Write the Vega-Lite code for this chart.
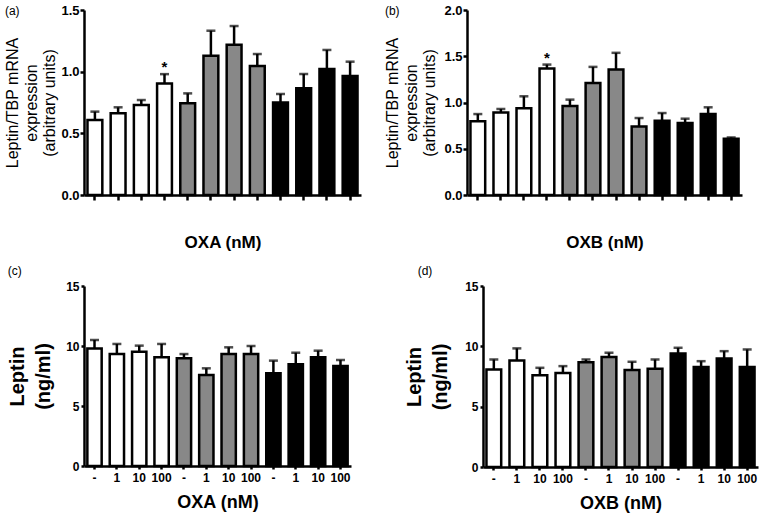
{
  "$schema": "https://vega.github.io/schema/vega-lite/v6.json",
  "padding": {"left": 4, "top": 4, "right": 2, "bottom": 2},
  "background": "white",
  "config": {
    "view": {"stroke": null},
    "font": "Liberation Sans",
    "axis": {
      "grid": false,
      "domainColor": "black",
      "domainWidth": 2.5,
      "tickColor": "black",
      "tickWidth": 2.5,
      "tickSize": 5,
      "labelFont": "Liberation Sans",
      "labelFontWeight": "bold",
      "labelColor": "black",
      "titleFont": "Liberation Sans",
      "titleColor": "black"
    },
    "title": {"font": "Liberation Sans", "fontWeight": "normal", "fontSize": 12, "color": "black"}
  },
  "datasets": {
    "a": [
      {"i": 1, "g": "w", "v": 0.608, "e": 0.676, "s": ""},
      {"i": 2, "g": "w", "v": 0.662, "e": 0.711, "s": ""},
      {"i": 3, "g": "w", "v": 0.730, "e": 0.770, "s": ""},
      {"i": 4, "g": "w", "v": 0.905, "e": 0.980, "s": "*"},
      {"i": 5, "g": "g", "v": 0.743, "e": 0.824, "s": ""},
      {"i": 6, "g": "g", "v": 1.130, "e": 1.332, "s": ""},
      {"i": 7, "g": "g", "v": 1.219, "e": 1.370, "s": ""},
      {"i": 8, "g": "g", "v": 1.046, "e": 1.143, "s": ""},
      {"i": 9, "g": "k", "v": 0.749, "e": 0.819, "s": ""},
      {"i": 10, "g": "k", "v": 0.865, "e": 0.981, "s": ""},
      {"i": 11, "g": "k", "v": 1.022, "e": 1.176, "s": ""},
      {"i": 12, "g": "k", "v": 0.965, "e": 1.081, "s": ""}
    ],
    "b": [
      {"i": 1, "g": "w", "v": 0.796, "e": 0.875, "s": ""},
      {"i": 2, "g": "w", "v": 0.893, "e": 0.930, "s": ""},
      {"i": 3, "g": "w", "v": 0.937, "e": 1.067, "s": ""},
      {"i": 4, "g": "w", "v": 1.367, "e": 1.410, "s": "*"},
      {"i": 5, "g": "g", "v": 0.962, "e": 1.031, "s": ""},
      {"i": 6, "g": "g", "v": 1.210, "e": 1.385, "s": ""},
      {"i": 7, "g": "g", "v": 1.356, "e": 1.537, "s": ""},
      {"i": 8, "g": "g", "v": 0.741, "e": 0.832, "s": ""},
      {"i": 9, "g": "k", "v": 0.803, "e": 0.886, "s": ""},
      {"i": 10, "g": "k", "v": 0.778, "e": 0.825, "s": ""},
      {"i": 11, "g": "k", "v": 0.875, "e": 0.948, "s": ""},
      {"i": 12, "g": "k", "v": 0.608, "e": 0.622, "s": ""}
    ],
    "c": [
      {"i": 1, "g": "w", "v": 9.80, "e": 10.50, "s": ""},
      {"i": 2, "g": "w", "v": 9.33, "e": 10.17, "s": ""},
      {"i": 3, "g": "w", "v": 9.53, "e": 10.03, "s": ""},
      {"i": 4, "g": "w", "v": 9.06, "e": 10.17, "s": ""},
      {"i": 5, "g": "g", "v": 8.97, "e": 9.33, "s": ""},
      {"i": 6, "g": "g", "v": 7.58, "e": 8.14, "s": ""},
      {"i": 7, "g": "g", "v": 9.33, "e": 9.89, "s": ""},
      {"i": 8, "g": "g", "v": 9.33, "e": 10.00, "s": ""},
      {"i": 9, "g": "k", "v": 7.72, "e": 8.78, "s": ""},
      {"i": 10, "g": "k", "v": 8.47, "e": 9.44, "s": ""},
      {"i": 11, "g": "k", "v": 9.06, "e": 9.61, "s": ""},
      {"i": 12, "g": "k", "v": 8.33, "e": 8.83, "s": ""}
    ],
    "d": [
      {"i": 1, "g": "w", "v": 8.08, "e": 8.91, "s": ""},
      {"i": 2, "g": "w", "v": 8.83, "e": 9.83, "s": ""},
      {"i": 3, "g": "w", "v": 7.61, "e": 8.22, "s": ""},
      {"i": 4, "g": "w", "v": 7.80, "e": 8.36, "s": ""},
      {"i": 5, "g": "g", "v": 8.69, "e": 8.91, "s": ""},
      {"i": 6, "g": "g", "v": 9.11, "e": 9.47, "s": ""},
      {"i": 7, "g": "g", "v": 8.03, "e": 8.72, "s": ""},
      {"i": 8, "g": "g", "v": 8.14, "e": 8.91, "s": ""},
      {"i": 9, "g": "k", "v": 9.41, "e": 9.88, "s": ""},
      {"i": 10, "g": "k", "v": 8.28, "e": 8.77, "s": ""},
      {"i": 11, "g": "k", "v": 9.00, "e": 9.60, "s": ""},
      {"i": 12, "g": "k", "v": 8.28, "e": 9.74, "s": ""}
    ]
  },
  "spacing": 14,
  "vconcat": [
    {
      "spacing": 23,
      "hconcat": [
        {
          "data": {"name": "a"},
          "width": 277,
          "height": 185,
          "title": {"text": "(a)", "anchor": "start", "frame": "bounds", "dy": 14, "offset": 0},
          "encoding": {
            "x": {"field": "i", "type": "ordinal", "scale": {"paddingInner": 0.36, "paddingOuter": 0.15},
              "axis": {"labels": false, "title": "OXA (nM)", "titlePadding": 33, "titleFontSize": 17, "titleFontWeight": "bold"}}
          },
          "layer": [
            {"mark": {"type": "bar", "stroke": "black", "strokeWidth": 2.5},
             "encoding": {
               "y": {"field": "v", "type": "quantitative", "scale": {"domain": [0, 1.5], "nice": false},
                 "axis": {"values": [0, 0.5, 1, 1.5], "format": ".1f", "labelFontSize": 13, "labelPadding": 1, "tickSize": 4, "title": ["Leptin/TBP mRNA", "expression", "(arbitrary units)"], "titleFontSize": 16, "titleFontWeight": "normal", "titleLineHeight": 18.5, "titlePadding": 3}},
               "fill": {"field": "g", "type": "nominal", "scale": {"domain": ["w", "g", "k"], "range": ["#ffffff", "#888888", "#000000"]}, "legend": null}}},
            {"mark": {"type": "rule", "strokeWidth": 2.5, "color": "black"},
             "encoding": {"y": {"field": "v", "type": "quantitative"}, "y2": {"field": "e"}}},
            {"mark": {"type": "tick", "thickness": 2.5, "size": 9, "color": "black"},
             "encoding": {"y": {"field": "e", "type": "quantitative"}}},
            {"transform": [{"filter": "datum.s == '*'"}],
             "mark": {"type": "text", "fontSize": 15, "fontWeight": "bold", "baseline": "alphabetic", "dy": -2, "color": "black"},
             "encoding": {"y": {"field": "e", "type": "quantitative"}, "text": {"field": "s"}}}
          ]
        },
        {
          "data": {"name": "b"},
          "width": 275,
          "height": 185,
          "title": {"text": "(b)", "anchor": "start", "frame": "bounds", "dy": 14, "offset": 0},
          "encoding": {
            "x": {"field": "i", "type": "ordinal", "scale": {"paddingInner": 0.36, "paddingOuter": 0.15},
              "axis": {"labels": false, "title": "OXB (nM)", "titlePadding": 33, "titleFontSize": 17, "titleFontWeight": "bold"}}
          },
          "layer": [
            {"mark": {"type": "bar", "stroke": "black", "strokeWidth": 2.5},
             "encoding": {
               "y": {"field": "v", "type": "quantitative", "scale": {"domain": [0, 2], "nice": false},
                 "axis": {"values": [0, 0.5, 1, 1.5, 2], "format": ".1f", "labelFontSize": 13, "labelPadding": 1, "tickSize": 4, "title": ["Leptin/TBP mRNA", "expression", "(arbitrary units)"], "titleFontSize": 16, "titleFontWeight": "normal", "titleLineHeight": 18.5, "titlePadding": 6}},
               "fill": {"field": "g", "type": "nominal", "scale": {"domain": ["w", "g", "k"], "range": ["#ffffff", "#888888", "#000000"]}, "legend": null}}},
            {"mark": {"type": "rule", "strokeWidth": 2.5, "color": "black"},
             "encoding": {"y": {"field": "v", "type": "quantitative"}, "y2": {"field": "e"}}},
            {"mark": {"type": "tick", "thickness": 2.5, "size": 9, "color": "black"},
             "encoding": {"y": {"field": "e", "type": "quantitative"}}},
            {"transform": [{"filter": "datum.s == '*'"}],
             "mark": {"type": "text", "fontSize": 15, "fontWeight": "bold", "baseline": "alphabetic", "dy": -2, "color": "black"},
             "encoding": {"y": {"field": "e", "type": "quantitative"}, "text": {"field": "s"}}}
          ]
        }
      ]
    },
    {
      "spacing": 53,
      "hconcat": [
        {
          "data": {"name": "c"},
          "width": 267,
          "height": 180,
          "title": {"text": "(c)", "anchor": "start", "frame": "bounds", "offset": 2},
          "encoding": {
            "x": {"field": "i", "type": "ordinal", "scale": {"paddingInner": 0.36, "paddingOuter": 0.15},
              "axis": {"labelExpr": "['-','1','10','100'][(datum.value - 1) % 4]", "labelAngle": 0, "labelOverlap": false, "labelBound": false, "labelFontSize": 12, "labelPadding": 3, "tickSize": 3, "title": "OXA (nM)", "titlePadding": 10, "titleFontSize": 18, "titleFontWeight": "bold"}}
          },
          "layer": [
            {"mark": {"type": "bar", "stroke": "black", "strokeWidth": 2.5},
             "encoding": {
               "y": {"field": "v", "type": "quantitative", "scale": {"domain": [0, 15], "nice": false},
                 "axis": {"values": [0, 5, 10, 15], "labelFontSize": 12, "tickSize": 3, "title": ["Leptin", "(ng/ml)"], "titleFontSize": 20, "titleFontWeight": "bold", "titleLineHeight": 26, "titlePadding": 12}},
               "fill": {"field": "g", "type": "nominal", "scale": {"domain": ["w", "g", "k"], "range": ["#ffffff", "#888888", "#000000"]}, "legend": null}}},
            {"mark": {"type": "rule", "strokeWidth": 2.5, "color": "black"},
             "encoding": {"y": {"field": "v", "type": "quantitative"}, "y2": {"field": "e"}}},
            {"mark": {"type": "tick", "thickness": 2.5, "size": 9, "color": "black"},
             "encoding": {"y": {"field": "e", "type": "quantitative"}}}
          ]
        },
        {
          "data": {"name": "d"},
          "width": 275,
          "height": 181,
          "title": {"text": "(d)", "anchor": "start", "frame": "bounds", "offset": 2, "dx": 13},
          "encoding": {
            "x": {"field": "i", "type": "ordinal", "scale": {"paddingInner": 0.36, "paddingOuter": 0.15},
              "axis": {"labelExpr": "['-','1','10','100'][(datum.value - 1) % 4]", "labelAngle": 0, "labelOverlap": false, "labelBound": false, "labelFontSize": 12, "labelPadding": 3, "tickSize": 3, "title": "OXB (nM)", "titlePadding": 10, "titleFontSize": 18, "titleFontWeight": "bold"}}
          },
          "layer": [
            {"mark": {"type": "bar", "stroke": "black", "strokeWidth": 2.5},
             "encoding": {
               "y": {"field": "v", "type": "quantitative", "scale": {"domain": [0, 15], "nice": false},
                 "axis": {"values": [0, 5, 10, 15], "labelFontSize": 12, "tickSize": 3, "title": ["Leptin", "(ng/ml)"], "titleFontSize": 20, "titleFontWeight": "bold", "titleLineHeight": 26, "titlePadding": 14}},
               "fill": {"field": "g", "type": "nominal", "scale": {"domain": ["w", "g", "k"], "range": ["#ffffff", "#888888", "#000000"]}, "legend": null}}},
            {"mark": {"type": "rule", "strokeWidth": 2.5, "color": "black"},
             "encoding": {"y": {"field": "v", "type": "quantitative"}, "y2": {"field": "e"}}},
            {"mark": {"type": "tick", "thickness": 2.5, "size": 9, "color": "black"},
             "encoding": {"y": {"field": "e", "type": "quantitative"}}}
          ]
        }
      ]
    }
  ]
}
